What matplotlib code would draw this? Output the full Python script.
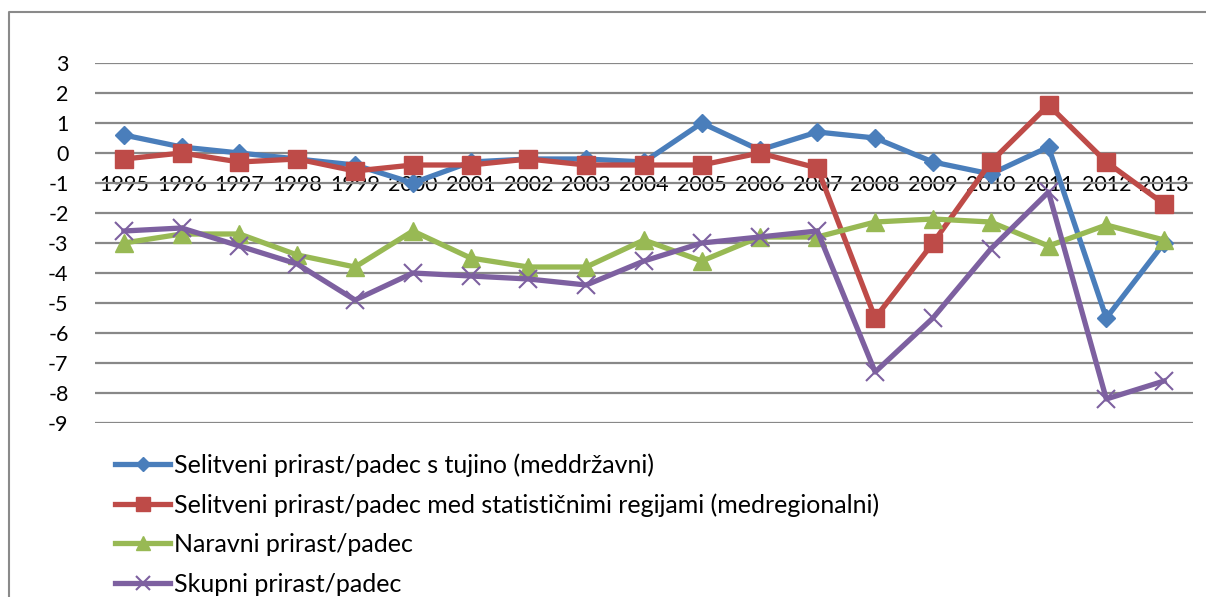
import numpy as np
import matplotlib
matplotlib.use("Agg")
import matplotlib.pyplot as plt
from matplotlib.lines import Line2D

plt.rcParams['font.family'] = ['Lato', 'DejaVu Sans']

years = [str(y) for y in range(1995, 2014)]
meddrzavni = [0.6, 0.2, 0.0, -0.2, -0.4, -1.0, -0.3, -0.2, -0.2, -0.3,
              1.0, 0.1, 0.7, 0.5, -0.3, -0.7, 0.2, -5.5, -3.0]
medregionalni = [-0.2, 0.0, -0.3, -0.2, -0.6, -0.4, -0.4, -0.2, -0.4, -0.4,
                 -0.4, 0.0, -0.5, -5.5, -3.0, -0.3, 1.6, -0.3, -1.7]
naravni = [-3.0, -2.7, -2.7, -3.4, -3.8, -2.6, -3.5, -3.8, -3.8, -2.9,
           -3.6, -2.8, -2.8, -2.3, -2.2, -2.3, -3.1, -2.4, -2.9]
skupni = [-2.6, -2.5, -3.1, -3.7, -4.9, -4.0, -4.1, -4.2, -4.4, -3.6,
          -3.0, -2.8, -2.6, -7.3, -5.5, -3.2, -1.3, -8.2, -7.6]

labels = ['Selitveni prirast/padec s tujino (meddržavni)',
          'Selitveni prirast/padec med statističnimi regijami (medregionalni)',
          'Naravni prirast/padec',
          'Skupni prirast/padec']
colors = ['#4A7EBB', '#BE4B48', '#98B954', '#7D60A0']
markers = ['D', 's', '^', 'x']

W, H = 1206, 597
fig = plt.figure(figsize=(W / 100, H / 100), dpi=100)
ax = fig.add_axes([95 / W, (H - 423) / H, (1193 - 95) / W, 360 / H])

x = np.arange(len(years))
lw = 3.8
ax.plot(x, meddrzavni, color=colors[0], lw=lw, marker='D', ms=9.5, zorder=3)
ax.plot(x, medregionalni, color=colors[1], lw=lw, marker='s', ms=13, zorder=3)
ax.plot(x, naravni, color=colors[2], lw=lw, marker='^', ms=13, zorder=3)
ax.plot(x, skupni, color=colors[3], lw=lw, marker='x', ms=13, mew=1.5, zorder=3)

ax.set_xlim(-0.5, len(years) - 0.5)
ax.set_ylim(-9, 3)
ax.set_yticks(range(-9, 4))
ax.set_yticklabels([str(v) for v in range(-9, 4)])
ax.grid(axis='y', color='#888888', lw=1.6, zorder=0)
ax.set_axisbelow(True)

ax.spines['bottom'].set_position(('data', 0))
for s in ['top', 'right', 'left', 'bottom']:
    ax.spines[s].set_visible(False)
ax.set_xticks(x)
ax.set_xticklabels(years)
ax.tick_params(axis='x', length=0, pad=16, labelsize=15.5)
ax.tick_params(axis='y', length=0, pad=19, labelsize=15.5)

# legend handles with the smaller Excel-style markers
handles = [Line2D([], [], color=c, lw=lw, marker=m,
                  ms=(7.5 if m == 'D' else 10), mew=(1.5 if m == 'x' else 1))
           for c, m in zip(colors, markers)]
leg = ax.legend(handles, labels, loc='upper left', bbox_to_anchor=(115 / W, (H - 453) / H),
                bbox_transform=fig.transFigure, frameon=False, fontsize=18,
                handlelength=2.2, handletextpad=0.15, labelspacing=0.66,
                borderaxespad=0, borderpad=0)

# chart frame
fig.add_artist(Line2D([9 / W, 9 / W, 1.0], [0, (H - 12) / H, (H - 12) / H],
                      transform=fig.transFigure, color='#8a8a8a', lw=1.5))

fig.savefig('out.png', dpi=100)
